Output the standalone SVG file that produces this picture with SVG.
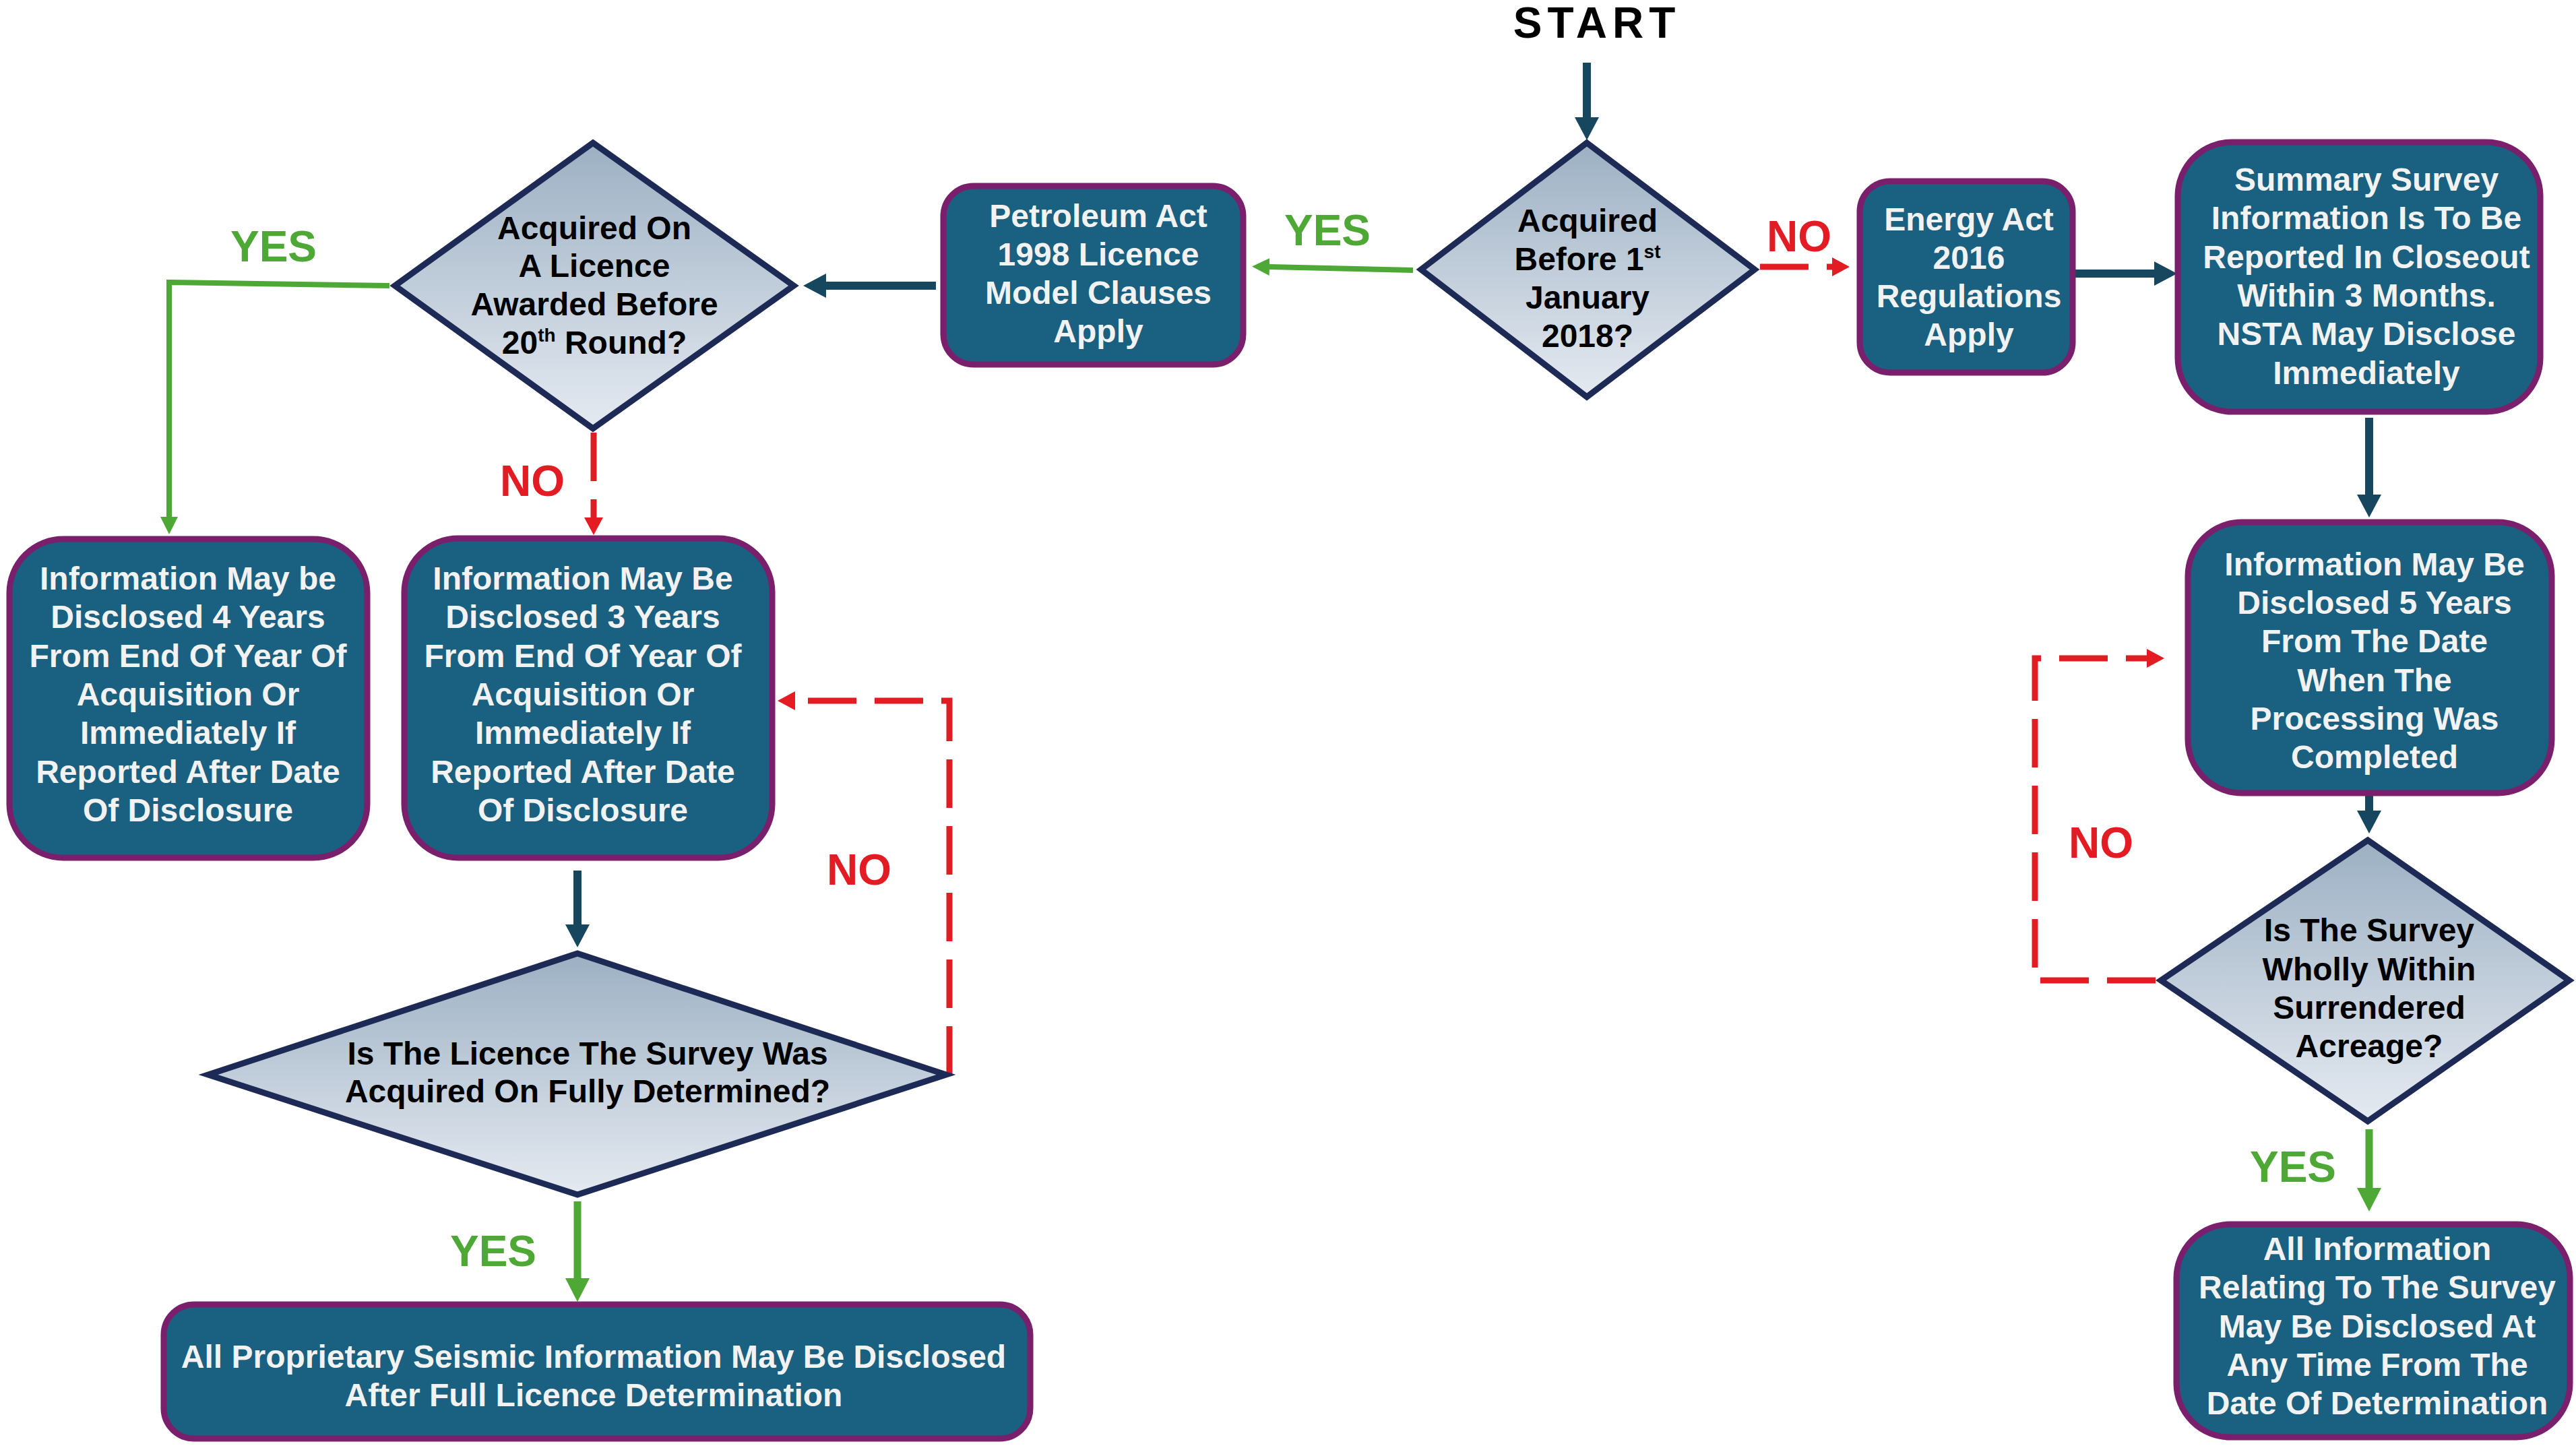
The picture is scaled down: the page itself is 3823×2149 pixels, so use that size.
<svg xmlns="http://www.w3.org/2000/svg" width="3823" height="2149" viewBox="0 0 3823 2149">
<defs>
<linearGradient id="dg" x1="0" y1="0" x2="0" y2="1">
<stop offset="0" stop-color="#9cb0c3"/>
<stop offset="1" stop-color="#e5eaf1"/>
</linearGradient>
<marker id="hNavy" markerUnits="userSpaceOnUse" viewBox="0 0 34 36" refX="0" refY="18" markerWidth="34" markerHeight="36" orient="auto">
<path d="M0,0 L34,18 L0,36 Z" fill="#16475f"/>
</marker>
<marker id="hGreenS" markerUnits="userSpaceOnUse" viewBox="0 0 26 26" refX="0" refY="13" markerWidth="26" markerHeight="26" orient="auto">
<path d="M0,0 L26,13 L0,26 Z" fill="#4ea836"/>
</marker>
<marker id="hGreenB" markerUnits="userSpaceOnUse" viewBox="0 0 35 36" refX="0" refY="18" markerWidth="35" markerHeight="36" orient="auto">
<path d="M0,0 L35,18 L0,36 Z" fill="#4ea836"/>
</marker>
<marker id="hRed" markerUnits="userSpaceOnUse" viewBox="0 0 26 28" refX="0" refY="14" markerWidth="26" markerHeight="28" orient="auto">
<path d="M0,0 L26,14 L0,28 Z" fill="#e31b23"/>
</marker>
</defs>
<style>
.box{fill:#1a6080;stroke:#7a1f6b;stroke-width:9}
.dia{fill:url(#dg);stroke:#1e2a56;stroke-width:9;stroke-linejoin:miter}
.bt{font-family:"Liberation Sans",Arial,sans-serif;font-weight:bold;font-size:48px;fill:#f2f2f2;text-anchor:middle}
.dt{font-family:"Liberation Sans",Arial,sans-serif;font-weight:bold;font-size:48px;fill:#000;text-anchor:middle}
.sup{font-size:28px}
.lbl{font-family:"Liberation Sans",Arial,sans-serif;font-weight:bold;font-size:64px;text-anchor:middle}
.yes{fill:#4ea836}
.no{fill:#e31b23}
.navy{fill:none;stroke:#16475f;stroke-width:12}
.green{fill:none;stroke:#4ea836;stroke-width:8}
.greenB{fill:none;stroke:#4ea836;stroke-width:11}
.red{fill:none;stroke:#e31b23;stroke-width:9;stroke-dasharray:72 27}
</style>
<rect width="3823" height="2149" fill="#ffffff"/>

<g id="connectors">
<line class="navy" x1="2355" y1="93" x2="2355" y2="174" marker-end="url(#hNavy)"/>
<line class="green" x1="2097" y1="401" x2="1884" y2="396" marker-end="url(#hGreenS)"/>
<line class="navy" x1="1389" y1="424" x2="1226" y2="424" marker-end="url(#hNavy)"/>
<polyline class="green" points="578,424 251,419 251,767" marker-end="url(#hGreenS)"/>
<line class="red" x1="881" y1="642" x2="881" y2="768" marker-end="url(#hRed)"/>
<polyline class="red" points="1409,1595 1409,1040 1180,1040" marker-end="url(#hRed)"/>
<line class="navy" x1="857" y1="1292" x2="857" y2="1372" marker-end="url(#hNavy)"/>
<line class="greenB" x1="857" y1="1783" x2="857" y2="1897" marker-end="url(#hGreenB)"/>
<line class="red" x1="2612" y1="396" x2="2719" y2="396" marker-end="url(#hRed)"/>
<line class="navy" x1="3080" y1="406" x2="3197" y2="406" marker-end="url(#hNavy)"/>
<line class="navy" x1="3516" y1="620" x2="3516" y2="734" marker-end="url(#hNavy)"/>
<line class="navy" x1="3516" y1="1169" x2="3516" y2="1203" marker-end="url(#hNavy)"/>
<polyline class="red" points="3199,1455 3020,1455 3020,977 3186,977" marker-end="url(#hRed)"/>
<line class="greenB" x1="3516" y1="1676" x2="3516" y2="1763" marker-end="url(#hGreenB)"/>
</g>

<g id="labels">
<text class="lbl" x="2370" y="56" fill="#000" letter-spacing="8">START</text>
<text class="lbl yes" x="1970" y="364">YES</text>
<text class="lbl no" x="2670" y="373">NO</text>
<text class="lbl yes" x="406" y="388">YES</text>
<text class="lbl no" x="790" y="736">NO</text>
<text class="lbl no" x="1275" y="1313">NO</text>
<text class="lbl yes" x="732" y="1879">YES</text>
<text class="lbl no" x="3118" y="1273">NO</text>
<text class="lbl yes" x="3403" y="1754">YES</text>
</g>

<g id="d-acquired-before">
<polygon class="dia" points="2355,212 2604,400 2355,589 2109,400"/>
<text class="dt" x="2356" y="344">Acquired</text>
<text class="dt" x="2356" y="401">Before 1<tspan class="sup" dy="-18">st</tspan></text>
<text class="dt" x="2356" y="458">January</text>
<text class="dt" x="2356" y="515">2018?</text>
</g>

<g id="n-petroleum">
<rect class="box" x="1400" y="276" width="445" height="265" rx="45"/>
<text class="bt" x="1630" y="337">Petroleum Act</text>
<text class="bt" x="1630" y="394">1998 Licence</text>
<text class="bt" x="1630" y="451">Model Clauses</text>
<text class="bt" x="1630" y="508">Apply</text>
</g>

<g id="d-licence-round">
<polygon class="dia" points="880,212 1178,424 880,636 586,424"/>
<text class="dt" x="882" y="355">Acquired On</text>
<text class="dt" x="882" y="411">A Licence</text>
<text class="dt" x="882" y="468">Awarded Before</text>
<text class="dt" x="882" y="525">20<tspan class="sup" dy="-18">th</tspan><tspan dy="18"> Round?</tspan></text>
</g>

<g id="n-info4">
<rect class="box" x="14" y="800" width="531" height="473" rx="80"/>
<text class="bt" x="279" y="875">Information May be</text>
<text class="bt" x="279" y="932">Disclosed 4 Years</text>
<text class="bt" x="279" y="990">From End Of Year Of</text>
<text class="bt" x="279" y="1047">Acquisition Or</text>
<text class="bt" x="279" y="1104">Immediately If</text>
<text class="bt" x="279" y="1162">Reported After Date</text>
<text class="bt" x="279" y="1219">Of Disclosure</text>
</g>

<g id="n-info3">
<rect class="box" x="600" y="799" width="546" height="474" rx="80"/>
<text class="bt" x="865" y="875">Information May Be</text>
<text class="bt" x="865" y="932">Disclosed 3 Years</text>
<text class="bt" x="865" y="990">From End Of Year Of</text>
<text class="bt" x="865" y="1047">Acquisition Or</text>
<text class="bt" x="865" y="1104">Immediately If</text>
<text class="bt" x="865" y="1162">Reported After Date</text>
<text class="bt" x="865" y="1219">Of Disclosure</text>
</g>

<g id="d-fully-determined">
<polygon class="dia" points="857,1415 1404,1595 857,1773 309,1595"/>
<text class="dt" x="872" y="1580">Is The Licence The Survey Was</text>
<text class="dt" x="872" y="1636">Acquired On Fully Determined?</text>
</g>

<g id="n-proprietary">
<rect class="box" x="243" y="1936" width="1286" height="199" rx="45"/>
<text class="bt" x="881" y="2030">All Proprietary Seismic Information May Be Disclosed</text>
<text class="bt" x="881" y="2087">After Full Licence Determination</text>
</g>

<g id="n-energy">
<rect class="box" x="2760" y="269" width="316" height="284" rx="45"/>
<text class="bt" x="2922" y="342">Energy Act</text>
<text class="bt" x="2922" y="399">2016</text>
<text class="bt" x="2922" y="456">Regulations</text>
<text class="bt" x="2922" y="513">Apply</text>
</g>

<g id="n-summary">
<rect class="box" x="3232" y="211" width="538" height="400" rx="80"/>
<text class="bt" x="3512" y="283">Summary Survey</text>
<text class="bt" x="3512" y="340">Information Is To Be</text>
<text class="bt" x="3512" y="398">Reported In Closeout</text>
<text class="bt" x="3512" y="455">Within 3 Months.</text>
<text class="bt" x="3512" y="512">NSTA May Disclose</text>
<text class="bt" x="3512" y="570">Immediately</text>
</g>

<g id="n-info5">
<rect class="box" x="3247" y="775" width="540" height="402" rx="80"/>
<text class="bt" x="3524" y="854">Information May Be</text>
<text class="bt" x="3524" y="911">Disclosed 5 Years</text>
<text class="bt" x="3524" y="968">From The Date</text>
<text class="bt" x="3524" y="1026">When The</text>
<text class="bt" x="3524" y="1083">Processing Was</text>
<text class="bt" x="3524" y="1140">Completed</text>
</g>

<g id="d-surrendered">
<polygon class="dia" points="3514,1247 3813,1455 3514,1664 3207,1455"/>
<text class="dt" x="3516" y="1397">Is The Survey</text>
<text class="dt" x="3516" y="1455">Wholly Within</text>
<text class="dt" x="3516" y="1512">Surrendered</text>
<text class="dt" x="3516" y="1569">Acreage?</text>
</g>

<g id="n-all-info">
<rect class="box" x="3230" y="1817" width="584" height="316" rx="80"/>
<text class="bt" x="3528" y="1870">All Information</text>
<text class="bt" x="3528" y="1927">Relating To The Survey</text>
<text class="bt" x="3528" y="1985">May Be Disclosed At</text>
<text class="bt" x="3528" y="2042">Any Time From The</text>
<text class="bt" x="3528" y="2099">Date Of Determination</text>
</g>
</svg>
